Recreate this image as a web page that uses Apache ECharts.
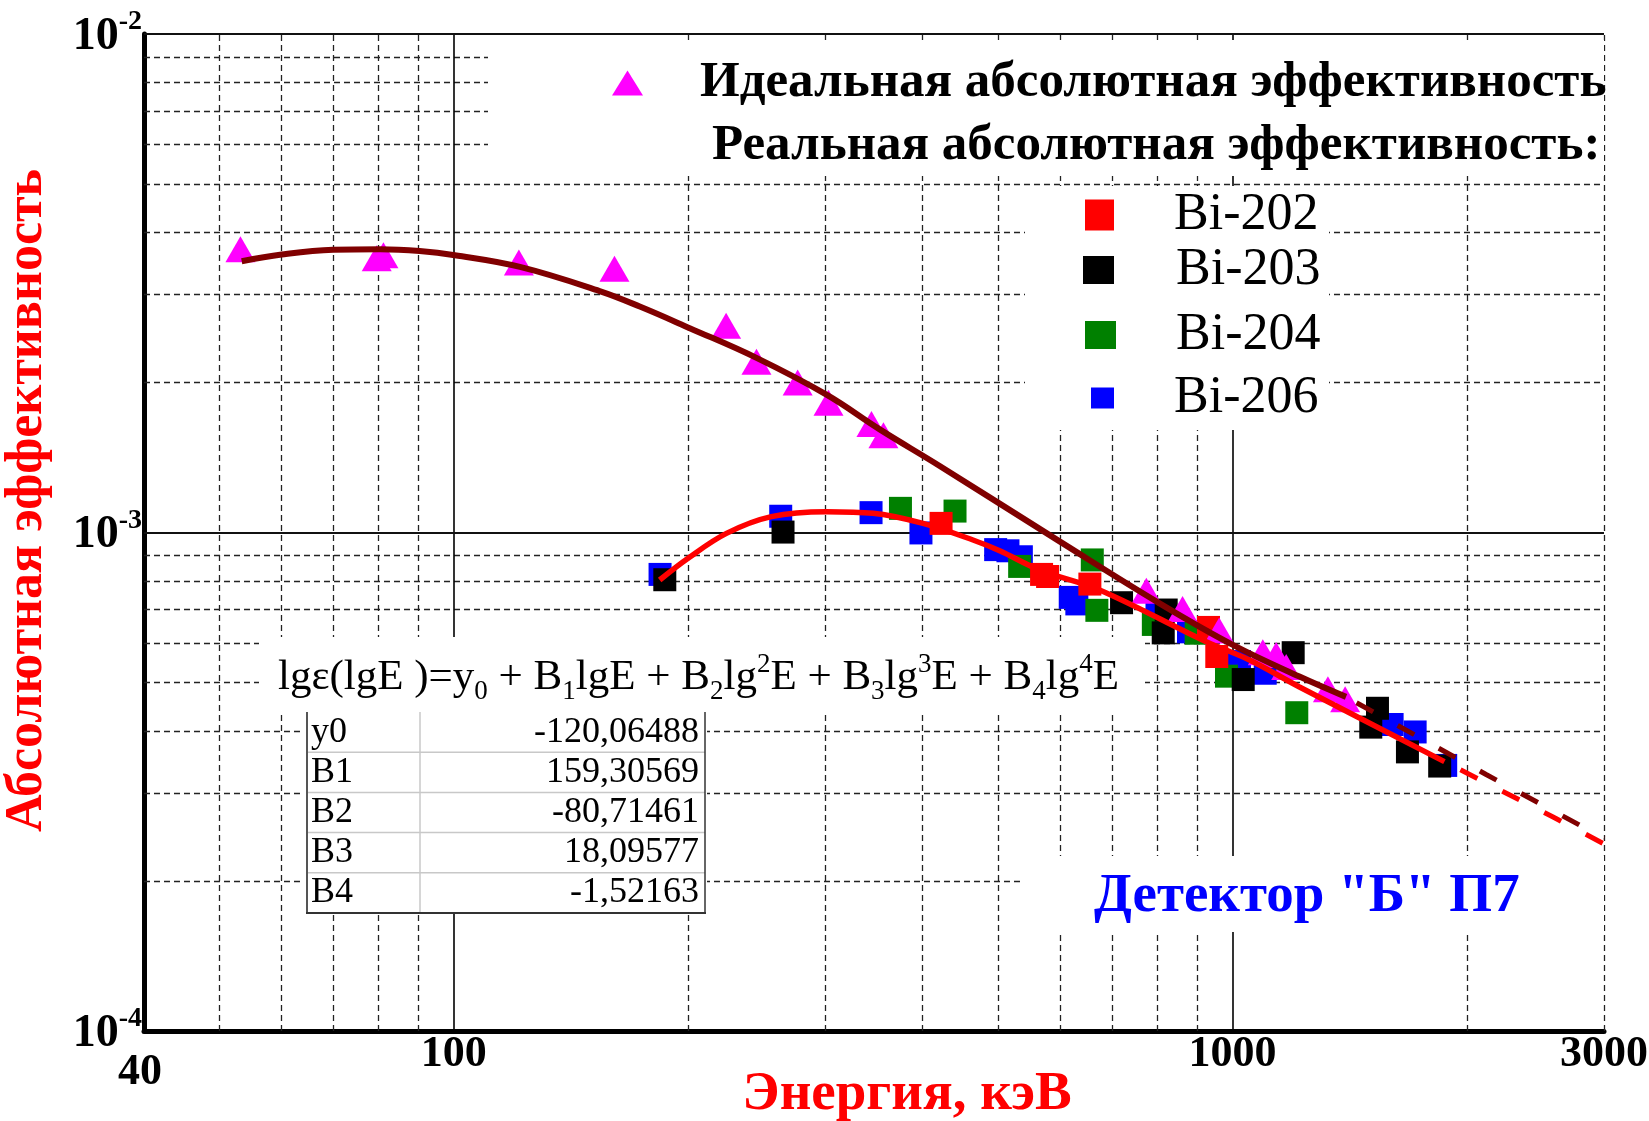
<!DOCTYPE html>
<html><head><meta charset="utf-8">
<script src="https://cdn.jsdelivr.net/npm/echarts@6/dist/echarts.min.js"></script>
<style>html,body{margin:0;padding:0;background:#fff}#c{width:1649px;height:1121px}</style>
</head><body><div id="c"></div>
<script>
// ---------- data ----------
const xMin = 40, xMax = 3000, yMin = 1e-4, yMax = 1e-2;
const xMajorGrid = [100, 1000];
const xMinorGrid = [50, 60, 70, 80, 90, 200, 300, 400, 500, 600, 700, 800, 900, 2000, 3000];
const yMajorGrid = [1e-3, 1e-2];
const yMinorGrid = [2e-4, 3e-4, 4e-4, 5e-4, 6e-4, 7e-4, 8e-4, 9e-4, 2e-3, 3e-3, 4e-3, 5e-3, 6e-3, 7e-3, 8e-3, 9e-3];

const idealE   = [53.2, 79.6, 81.2, 121.2, 160.8, 223.7, 244.7, 276.4, 302.8, 343.8, 356.2, 775.1, 862.7, 961.4, 1093.8, 1137.8, 1172.1, 1326, 1395.3];
const idealEff = [3.70e-3, 3.55e-3, 3.60e-3, 3.48e-3, 3.38e-3, 2.60e-3, 2.20e-3, 2.00e-3, 1.82e-3, 1.65e-3, 1.567e-3, 7.64e-4, 7.02e-4, 6.36e-4, 5.75e-4, 5.68e-4, 5.37e-4, 4.85e-4, 4.63e-4];

const bi202E   = [422.4, 568.6, 578.8, 655.9, 931.5, 954.6];
const bi202Eff = [1.043e-3, 8.24e-4, 8.16e-4, 7.88e-4, 6.45e-4, 5.64e-4];

const bi203E   = [186.6, 264.7, 720.3, 814.8, 822.0, 1032.2, 1196.6, 1505.2, 1535.3, 1677.6, 1845.4];
const bi203Eff = [8.04e-4, 1.002e-3, 7.23e-4, 6.29e-4, 6.99e-4, 5.07e-4, 5.74e-4, 4.07e-4, 4.44e-4, 3.63e-4, 3.40e-4];

const bi204E   = [374.6, 440.2, 532.9, 660.6, 669.6, 791.3, 898.1, 982.4, 1209.4];
const bi204Eff = [1.118e-3, 1.104e-3, 8.55e-4, 8.81e-4, 6.98e-4, 6.54e-4, 6.28e-4, 5.15e-4, 4.35e-4];

const bi206E   = [184.0, 262.9, 343.4, 398.0, 496.4, 514.8, 535.6, 618.9, 631.1, 799.9, 878.0, 1020.9, 1101.6, 1603.2, 1716.2, 1878.5];
const bi206Eff = [8.24e-4, 1.078e-3, 1.096e-3, 9.98e-4, 9.24e-4, 9.19e-4, 8.94e-4, 7.41e-4, 7.19e-4, 6.94e-4, 6.32e-4, 5.51e-4, 5.22e-4, 4.12e-4, 3.98e-4, 3.41e-4];

// fitted curves
const idealFitE   = [53.4, 60.1, 70.0, 80.4, 90.4, 100.3, 121.6, 153.9, 173.3, 200.9, 244.7, 301.0, 352.3, 420.7, 599.7, 806, 1001, 1219, 1399];
const idealFitEff = [3.50e-3, 3.61e-3, 3.69e-3, 3.70e-3, 3.67e-3, 3.60e-3, 3.41e-3, 3.05e-3, 2.84e-3, 2.57e-3, 2.24e-3, 1.89e-3, 1.61e-3, 1.36e-3, 9.6e-4, 7.21e-4, 5.95e-4, 5.14e-4, 4.68e-4];
const idealExtE   = [1399, 2117, 3000];
const idealExtEff = [4.68e-4, 3.27e-4, 2.435e-4];

const realFitE   = [183.8, 199.9, 223.9, 255.7, 301.0, 345.4, 400.4, 464.2, 502.3, 565.2, 675.0, 925.2, 1051.5, 1219, 1871.5];
const realFitEff = [8.03e-4, 8.88e-4, 9.96e-4, 1.076e-3, 1.101e-3, 1.093e-3, 1.043e-3, 9.66e-4, 9.19e-4, 8.41e-4, 7.67e-4, 6.04e-4, 5.55e-4, 4.90e-4, 3.47e-4];
const realExtE   = [1871.5, 2577, 2990];
const realExtEff = [3.47e-4, 2.69e-4, 2.38e-4];

const tableNames  = ['y0', 'B1', 'B2', 'B3', 'B4'];
const tableValues = ['-120,06488', '159,30569', '-80,71461', '18,09577', '-1,52163'];

const idealName = 'Идеальная абсолютная эффективность';
const realTitle = 'Реальная абсолютная эффективность:';
const detectorText = 'Детектор "Б" П7';
const xName = 'Энергия, кэВ';
const yName = 'Абсолютная эффективность';

// ---------- chart ----------
const FF = "'Liberation Serif','Times New Roman',serif";
const zip = (a, b) => a.map((v, i) => [v, b[i]]);

const gridLines = (vals, isX) => vals.map(v => ({ coords: isX ? [[v, yMin], [v, yMax]] : [[xMin, v], [xMax, v]] }));

const scatter = (name, E, Eff, color, symbol, size) => ({
  type: 'scatter', name, data: zip(E, Eff), symbol, symbolSize: size,
  itemStyle: { color, opacity: 1 }, z: 3, silent: true
});

const legendItem = (name, left, top, w, h, icon, font, weight, pad) => ({
  data: [name], left, top, padding: 0, itemWidth: w, itemHeight: h, icon,
  selectedMode: false, itemGap: 0,
  textStyle: { fontFamily: FF, fontSize: font, fontWeight: weight, color: '#000', lineHeight: 60, padding: [0, 0, 0, pad] }
});

const tableTop = 712, rowH = 40.2, tL = 307, tR = 705, tC = 420;
const tableGraphics = [];
tableNames.forEach((n, i) => {
  const cy = tableTop + rowH * (i + 0.5);
  tableGraphics.push({ type: 'text', z: 3, style: { text: n, x: 311, y: cy, fontFamily: FF, fontSize: 36, fill: '#000', align: 'left', verticalAlign: 'middle' } });
  tableGraphics.push({ type: 'text', z: 3, style: { text: tableValues[i], x: 699, y: cy, fontFamily: FF, fontSize: 36, fill: '#000', align: 'right', verticalAlign: 'middle' } });
  if (i > 0) tableGraphics.push({ type: 'line', z: 3, shape: { x1: tL, y1: tableTop + rowH * i, x2: tR, y2: tableTop + rowH * i }, style: { stroke: '#c8c8c8', lineWidth: 1.5 } });
});
const tableBottom = tableTop + rowH * tableNames.length;
tableGraphics.push(
  { type: 'line', z: 3, shape: { x1: tC, y1: tableTop, x2: tC, y2: tableBottom }, style: { stroke: '#c8c8c8', lineWidth: 1.5 } },
  { type: 'line', z: 3, shape: { x1: tL, y1: tableTop, x2: tL, y2: tableBottom }, style: { stroke: '#555', lineWidth: 2 } },
  { type: 'line', z: 3, shape: { x1: tR, y1: tableTop, x2: tR, y2: tableBottom }, style: { stroke: '#333', lineWidth: 1.5 } },
  { type: 'line', z: 3, shape: { x1: tL - 1, y1: tableBottom, x2: tR + 1, y2: tableBottom }, style: { stroke: '#333', lineWidth: 2 } }
);

const whiteBox = (x, y, w, h) => ({ type: 'rect', z: 2, shape: { x, y, width: w, height: h }, style: { fill: '#fff' }, silent: true });

const chart = echarts.init(document.getElementById('c'), null, { renderer: 'canvas' });
chart.setOption({
  animation: false,
  backgroundColor: '#fff',
  grid: { left: 144, top: 34, right: 45, bottom: 90, containLabel: false, outerBoundsMode: 'none' },
  xAxis: {
    type: 'log', logBase: 10, min: xMin, max: xMax,
    name: xName, nameLocation: 'middle', nameGap: 36, nameMoveOverlap: false,
    nameTextStyle: { fontFamily: FF, fontSize: 55, fontWeight: 'bold', color: '#ff0000', padding: [0, 0, 0, 66] },
    axisLine: { show: true, onZero: false, lineStyle: { color: '#000', width: 5 } },
    axisTick: { show: false },
    splitLine: { show: false },
    axisLabel: { show: true, interval: 0, showMinLabel: true, showMaxLabel: true, margin: 2,
      fontFamily: FF, fontSize: 44, fontWeight: 'bold', color: '#000',
      formatter: v => { const r = Math.round(v); return r === xMin ? '{low|' + r + '}' : String(r); },
      rich: { low: { fontFamily: FF, fontSize: 44, fontWeight: 'bold', color: '#000', padding: [18, 8, 0, 0] } } }
  },
  yAxis: {
    type: 'log', logBase: 10, min: yMin, max: yMax,
    name: yName, nameLocation: 'middle', nameGap: 90, nameRotate: 90, nameMoveOverlap: false,
    nameTextStyle: { fontFamily: FF, fontSize: 52, fontWeight: 'bold', color: '#ff0000', padding: [0, 0, 0, 64] },
    axisLine: { show: true, onZero: false, lineStyle: { color: '#000', width: 5 } },
    axisTick: { show: false },
    splitLine: { show: false },
    axisLabel: { show: true, showMinLabel: true, showMaxLabel: true, margin: 2,
      formatter: v => '{a|10}{b|' + Math.round(Math.log10(v)) + '}',
      rich: {
        a: { fontFamily: FF, fontSize: 46, fontWeight: 'bold', color: '#000', lineHeight: 52, verticalAlign: 'bottom' },
        b: { fontFamily: FF, fontSize: 28, fontWeight: 'bold', color: '#000', lineHeight: 30, verticalAlign: 'top' }
      } }
  },
  legend: [
    legendItem(idealName, 612, 53, 31, 25, 'triangle', 51, 'bold', 52),
    legendItem('Bi-202', 1085, 185, 29, 31, 'rect', 52, 'normal', 55),
    legendItem('Bi-203', 1083, 240, 31, 28, 'rect', 52, 'normal', 57),
    legendItem('Bi-204', 1085, 305, 31, 28, 'rect', 52, 'normal', 55),
    legendItem('Bi-206', 1091, 368, 23, 21, 'rect', 52, 'normal', 55)
  ],
  graphic: { elements: [
    whiteBox(488, 40, 1116, 136),
    whiteBox(1025, 186, 304, 244),
    whiteBox(259, 637, 886, 75),
    whiteBox(303, 712, 404, 201),
    whiteBox(1020, 856, 584, 76),
    { type: 'text', z: 3, style: { text: realTitle, x: 712, y: 146, fontFamily: FF, fontSize: 51, fontWeight: 'bold', fill: '#000', align: 'left', verticalAlign: 'middle' } },
    { type: 'text', z: 3, style: { text: detectorText, x: 1094, y: 897, fontFamily: FF, fontSize: 55, fontWeight: 'bold', fill: '#0000ff', align: 'left', verticalAlign: 'middle' } },
    { type: 'text', z: 3, style: {
        x: 278, y: 678, align: 'left', verticalAlign: 'middle',
        text: '{m|lgε(lgE )=y}{s|0}{m| + B}{s|1}{m|lgE + B}{s|2}{m|lg}{p|2}{m|E + B}{s|3}{m|lg}{p|3}{m|E + B}{s|4}{m|lg}{p|4}{m|E}',
        rich: {
          m: { fontFamily: FF, fontSize: 43, fill: '#000', lineHeight: 54, verticalAlign: 'middle' },
          s: { fontFamily: FF, fontSize: 27, fill: '#000', lineHeight: 28, verticalAlign: 'bottom' },
          p: { fontFamily: FF, fontSize: 27, fill: '#000', lineHeight: 28, verticalAlign: 'top' }
        } } }
  ].concat(tableGraphics) },
  series: [
    { type: 'lines', coordinateSystem: 'cartesian2d', silent: true, z: 1, name: 'gridMinorX',
      data: gridLines(xMinorGrid, true), lineStyle: { color: '#222', width: 1.3, type: [6, 4], opacity: 1 } },
    { type: 'lines', coordinateSystem: 'cartesian2d', silent: true, z: 1, name: 'gridMinorY',
      data: gridLines(yMinorGrid, false), lineStyle: { color: '#222', width: 1.3, type: [6, 4], opacity: 1 } },
    { type: 'lines', coordinateSystem: 'cartesian2d', silent: true, z: 1, name: 'gridMajorX',
      data: gridLines(xMajorGrid, true), lineStyle: { color: '#000', width: 1.6, type: 'solid', opacity: 1 } },
    { type: 'lines', coordinateSystem: 'cartesian2d', silent: true, z: 1, name: 'gridMajorY',
      data: gridLines(yMajorGrid, false), lineStyle: { color: '#111', width: 2, type: 'solid', opacity: 1 } },
    scatter('Bi-206', bi206E, bi206Eff, '#0000ff', 'rect', 23),
    scatter('Bi-204', bi204E, bi204Eff, '#008000', 'rect', 23),
    scatter('Bi-203', bi203E, bi203Eff, '#000000', 'rect', 23),
    scatter('Bi-202', bi202E, bi202Eff, '#ff0000', 'rect', 23),
    scatter(idealName, idealE, idealEff, '#ff00ff', 'triangle', [30, 26]),
    { type: 'line', name: 'realFit', data: zip(realFitE, realFitEff), smooth: 0.35, showSymbol: false, z: 4, silent: true,
      lineStyle: { color: '#ff0000', width: 5.5 } },
    { type: 'line', name: 'realExt', data: zip(realExtE, realExtEff), smooth: false, showSymbol: false, z: 4, silent: true,
      lineStyle: { color: '#ff0000', width: 5, type: [19, 28], dashOffset: -18 } },
    { type: 'line', name: 'idealFit', data: zip(idealFitE, idealFitEff), smooth: 0.4, showSymbol: false, z: 5, silent: true,
      lineStyle: { color: '#800000', width: 6 } },
    { type: 'line', name: 'idealExt', data: zip(idealExtE, idealExtEff), smooth: false, showSymbol: false, z: 5, silent: true,
      lineStyle: { color: '#800000', width: 5, type: [19, 28], dashOffset: -12 } }
  ]
});
</script>
</body></html>
